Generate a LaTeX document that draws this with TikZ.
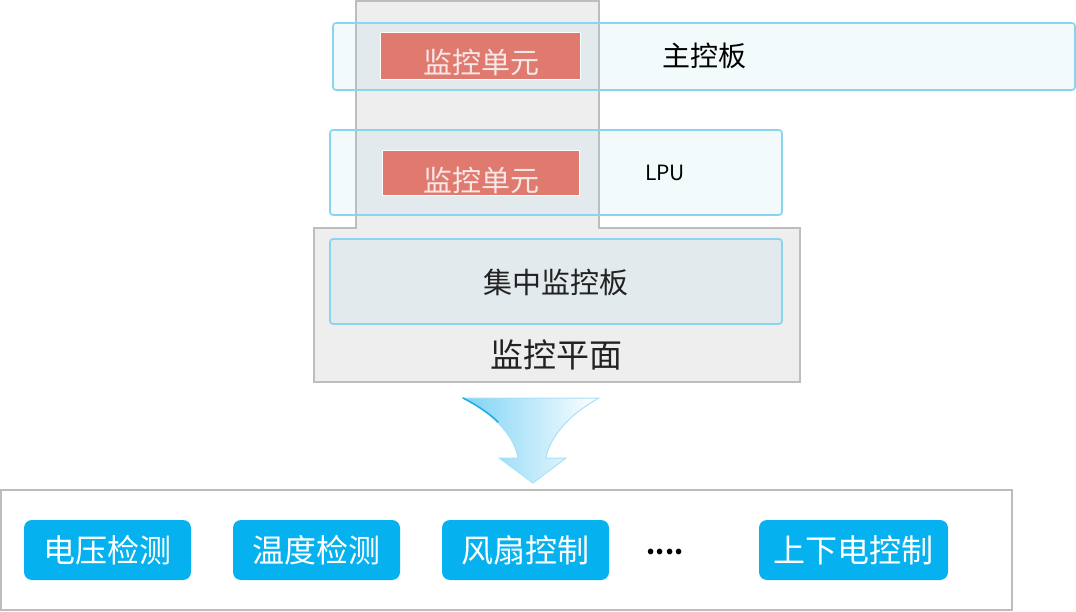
\documentclass[tikz,border=0pt]{standalone}
\usepackage{fontspec}
\setmainfont{Noto Sans CJK SC}
\usetikzlibrary{calc}
\definecolor{planefill}{HTML}{EEEEEE}
\definecolor{planeline}{HTML}{BDBDBD}
\definecolor{boardline}{HTML}{8AD4F0}
\definecolor{boardfill}{HTML}{93D5E8}
\definecolor{unitred}{HTML}{E07A6F}
\definecolor{unittext}{HTML}{F6E8E6}
\definecolor{btnblue}{HTML}{05B2EF}
\definecolor{darktext}{HTML}{222222}
\definecolor{arrowdeep}{HTML}{1AAEEB}
\definecolor{arrowlight}{HTML}{7ED3F5}
\definecolor{arrowedge}{HTML}{A9E1F6}
\tikzset{
  board/.style={draw=boardline, line width=1.7pt, rounded corners=3pt, fill=boardfill, fill opacity=0.12},
  unitbox/.style={draw=white, line width=0.8pt, fill=unitred},
  unitlabel/.style={inner sep=0pt, text=unittext, font=\fontsize{29}{32}\selectfont},
  label/.style={inner sep=0pt, text=darktext},
  funcbtn/.style={fill=btnblue, rounded corners=8pt, inner sep=0pt},
  funclabel/.style={inner sep=0pt, text=white, font=\fontsize{32}{36}\selectfont},
}
\begin{document}
\begin{tikzpicture}[x=1pt, y=-1pt]
\useasboundingbox (0,0) rectangle (1076,612);

% monitoring plane: a column rising out of a wide base
\draw[fill=planefill, draw=planeline, line width=1.2pt]
  (356,1) -- (599,1) -- (599,228) -- (800,228) -- (800,382) -- (314,382)
  -- (314,228) -- (356,228) -- cycle;

% boards
\draw[board] (333,23) rectangle (1075,90);
\draw[board] (330,130) rectangle (782,215);
\draw[board] (330,239) rectangle (782,324);

% monitoring units
\draw[unitbox] (380,32) rectangle (580,79);
\node[unitlabel] (unitA) at (481,62) {监控单元};
\draw[unitbox] (382,150) rectangle (579,195);
\node[unitlabel] (unitB) at (481,180) {监控单元};

\node[label, text=black, font=\fontsize{28}{32}\selectfont] (main) at (704,55.5) {主控板};
\node[label, text=black, font=\fontsize{21}{24}\selectfont] (lpu) at (665,173) {LPU};
\node[label, font=\fontsize{29}{32}\selectfont] (central) at (556,282) {集中监控板};
\node[label, font=\fontsize{33}{36}\selectfont] (plane) at (556,355) {监控平面};

% downward arrow
\shade[left color=arrowlight, right color=white, draw=arrowedge, line width=1pt]
  (463,398) -- (599,398)
  .. controls (570,414) and (550,436) .. (546,458)
  -- (566,458) -- (533,483) -- (499,458) -- (518,458)
  .. controls (514,436) and (496,416) .. (463,398) -- cycle;
\draw[arrowdeep, line width=1.5pt, line cap=round]
  (463,398) .. controls (480,407) and (490,414) .. (498,422);

% functions area
\draw[draw=planeline, line width=1.2pt, fill=white] (1,490) rectangle (1012,610);
\node[funcbtn, minimum width=167pt, minimum height=60pt] (volt) at (107.5,550) {};
\node[funclabel] at (volt.center) {电压检测};
\node[funcbtn, minimum width=167pt, minimum height=60pt] (temp) at (316.5,550) {};
\node[funclabel] at (temp.center) {温度检测};
\node[funcbtn, minimum width=167pt, minimum height=60pt] (fan) at (525.5,550) {};
\node[funclabel] at (fan.center) {风扇控制};
\node[label, text=black, font=\fontsize{26}{30}\selectfont\bfseries] (dots) at (665,552) {....};
\node[funcbtn, minimum width=189pt, minimum height=60pt] (power) at (853.5,550) {};
\node[funclabel] at (power.center) {上下电控制};
\end{tikzpicture}
\end{document}
